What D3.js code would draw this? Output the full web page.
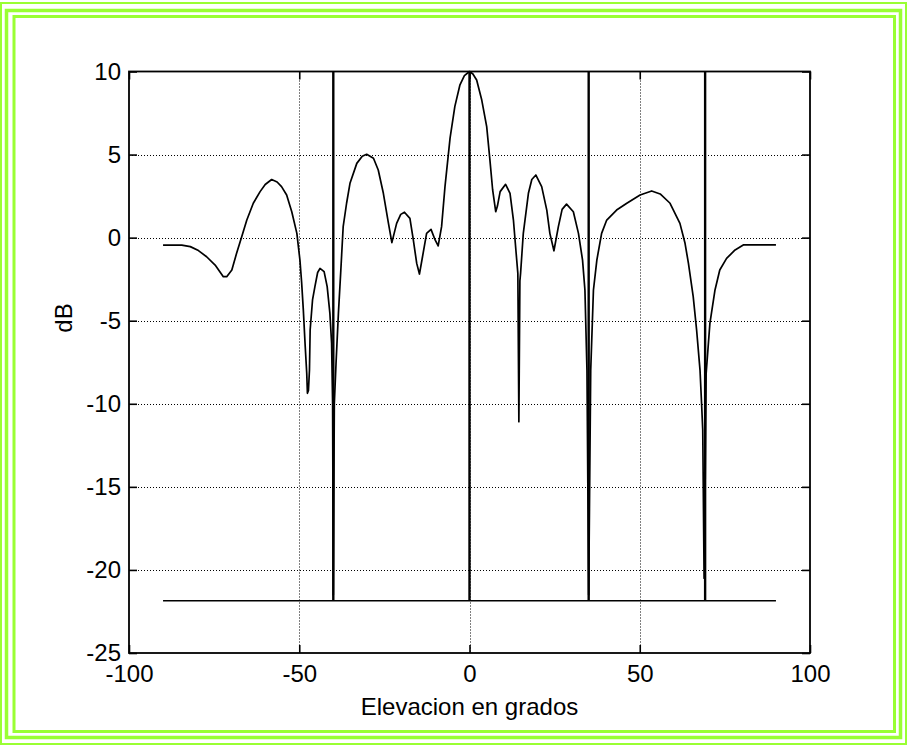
<!DOCTYPE html>
<html>
<head>
<meta charset="utf-8">
<script src="https://cdn.jsdelivr.net/npm/d3@7"></script>
<style>
  body { margin: 0; background: #fff; }
  svg { display: block; }
  text { font-family: "Liberation Sans", Arial, Helvetica, sans-serif; fill: #000; }
</style>
</head>
<body>
<script>
// donnees
var elevacion = [-90, -84.5, -82, -79.6, -77.2, -74.7, -72.3, -71.3, -69.8, -68.4, -66.9, -65.4, -63.5, -61.5, -60, -58.1, -56.5, -55.2, -53.7, -52.2, -50.7, -49.8, -49.3, -48.8, -48.3, -47.8, -47.6, -47.3, -47.0, -46.8, -46.1, -45.4, -44.6, -43.9, -42.7, -41.8, -41.0, -40.5, -40.2, -40.0, -39.7, -39.2, -38.5, -37.8, -37.1, -36.1, -35.1, -33.1, -31.5, -30.2, -28.2, -26.8, -25.3, -23.8, -22.8, -21.4, -20.2, -19.1, -17.5, -16.5, -15.5, -14.7, -13.8, -12.6, -11.3, -10.1, -9.2, -8.2, -7.2, -5.7, -4.3, -2.8, -1.5, 0, 1, 2.1, 3.6, 5.05, 6.0, 6.8, 7.7, 8.2, 9.0, 10.6, 11.9, 12.9, 13.7, 14.2, 14.5, 14.8, 15.0, 15.8, 17.3, 18.3, 19.5, 21.2, 22.7, 23.6, 24.8, 26.1, 27.2, 28.5, 30.5, 32.0, 33.2, 33.9, 34.5, 35.0, 35.6, 36.4, 37.4, 38.8, 40.3, 43.2, 46.2, 50.1, 53.5, 56.0, 58.9, 61.8, 63.3, 64.3, 65.7, 66.7, 67.7, 68.2, 68.5, 68.9, 69.2, 69.5, 70.6, 72.1, 73.5, 75.5, 78.0, 80.4, 90];
var gananciaDb = [-0.45, -0.45, -0.54, -0.78, -1.15, -1.65, -2.35, -2.35, -1.95, -0.94, 0.06, 1.06, 2.07, 2.77, 3.2, 3.5, 3.35, 3.07, 2.57, 1.56, 0.26, -1.35, -2.7, -4.36, -6.36, -8.17, -9.37, -9.2, -7.97, -5.56, -3.75, -2.95, -2.1, -1.85, -2.05, -2.95, -4.56, -6.36, -10, -21.5, -10, -7.57, -4.56, -2.0, 0.66, 2.07, 3.27, 4.47, 4.9, 5.02, 4.78, 4.07, 2.67, 0.86, -0.30, 0.86, 1.4, 1.53, 1.16, -0.14, -1.55, -2.19, -1.15, 0.26, 0.50, -0.14, -0.50, 0.66, 3.07, 6.0, 7.9, 9.2, 9.75, 10, 9.85, 9.49, 8.28, 6.68, 4.67, 2.87, 1.56, 1.9, 2.77, 3.21, 2.67, 1.06, -0.94, -2.15, -11.08, -2.6, -2.15, 0.26, 2.67, 3.5, 3.77, 3.07, 1.66, 0.26, -0.79, 0.66, 1.7, 2.02, 1.56, 0.26, -1.35, -3.15, -8, -21.5, -8, -3.15, -1.35, 0.26, 1.06, 1.66, 2.07, 2.57, 2.81, 2.63, 2.07, 0.86, -0.34, -1.55, -3.55, -5.56, -7.97, -10.18, -11.58, -20.5, -15, -8.17, -5.16, -3.15, -1.95, -1.25, -0.74, -0.44, -0.44];

// lignes verticales (directions) et ligne de base
var angulos = [-40, 0, 35, 69.2];
var nivelBase = -21.85;
var baseDesde = -90, baseHasta = 90;

var ticksX = [-100, -50, 0, 50, 100];
var ticksY = [-25, -20, -15, -10, -5, 0, 5, 10];

var w = 910, h = 747;
var mLeft = 129, mRight = 810, mTop = 71.5, mBottom = 653;
var verde = "#99ff33";

var svg = d3.select("body").append("svg")
  .attr("width", w)
  .attr("height", h);

svg.append("rect").attr("width", w).attr("height", h).attr("fill", "#fff");

// cadre vert
var cadres = [
  {x0: 1, y0: 3, x1: 906, y1: 744, s: 2},
  {x0: 6.5, y0: 10.5, x1: 900.5, y1: 737.5, s: 3.5},
  {x0: 14, y0: 16.5, x1: 894.5, y1: 731.5, s: 3}
];
cadres.forEach(function(c) {
  svg.append("rect")
    .attr("x", c.x0).attr("y", c.y0)
    .attr("width", c.x1 - c.x0).attr("height", c.y1 - c.y0)
    .attr("fill", "none")
    .attr("stroke", verde)
    .attr("stroke-width", c.s);
});

var x = d3.scaleLinear().domain([-100, 100]).range([mLeft, mRight]);
var y = d3.scaleLinear().domain([-25, 10]).range([mBottom, mTop]);

var g = svg.append("g");

// grille pointillee
g.selectAll(".gx").data(ticksX.slice(1, -1)).enter().append("line")
  .attr("x1", function(d) { return Math.round(x(d)) + 0.5; }).attr("x2", function(d) { return Math.round(x(d)) + 0.5; })
  .attr("y1", mTop).attr("y2", mBottom)
  .attr("stroke", "#000").attr("stroke-width", 1).attr("stroke-dasharray", "1,2");
g.selectAll(".gy").data(ticksY.slice(1, -1)).enter().append("line")
  .attr("x1", mLeft).attr("x2", mRight)
  .attr("y1", function(d) { return Math.round(y(d)) + 0.5; }).attr("y2", function(d) { return Math.round(y(d)) + 0.5; })
  .attr("stroke", "#000").attr("stroke-width", 1).attr("stroke-dasharray", "1,2");

// axes
var fs = "24px";
var fmt = function(d) { return String(d); };
var axB = g.append("g").attr("transform", "translate(0," + mBottom + ")")
  .call(d3.axisBottom(x).tickValues(ticksX).tickSize(-8).tickSizeOuter(0).tickPadding(12).tickFormat(fmt));
var axT = g.append("g").attr("transform", "translate(0," + mTop + ")")
  .call(d3.axisTop(x).tickValues(ticksX).tickSize(-8).tickSizeOuter(0).tickFormat(""));
var axL = g.append("g").attr("transform", "translate(" + mLeft + ",0)")
  .call(d3.axisLeft(y).tickValues(ticksY).tickSize(-8).tickSizeOuter(0).tickPadding(8).tickFormat(fmt));
var axR = g.append("g").attr("transform", "translate(" + mRight + ",0)")
  .call(d3.axisRight(y).tickValues(ticksY).tickSize(-8).tickSizeOuter(0).tickFormat(""));

[axB, axT, axL, axR].forEach(function(a) {
  a.select(".domain").remove();
  a.selectAll("line").attr("stroke", "#000").attr("stroke-width", 1.6);
  a.selectAll("text").style("font-size", fs).style("font-family", "Liberation Sans, Arial, sans-serif").attr("fill", "#000");
});

// ligne de base et verticales
g.append("line")
  .attr("x1", x(baseDesde)).attr("x2", x(baseHasta))
  .attr("y1", y(nivelBase)).attr("y2", y(nivelBase))
  .attr("stroke", "#000").attr("stroke-width", 1.5);

g.selectAll(".vert").data(angulos).enter().append("line")
  .attr("x1", function(d) { return x(d); }).attr("x2", function(d) { return x(d); })
  .attr("y1", y(nivelBase)).attr("y2", y(10))
  .attr("stroke", "#000").attr("stroke-width", 2.4);

// diagramme
var datos = elevacion.map(function(e, i) { return [e, gananciaDb[i]]; });
var linea = d3.line()
  .x(function(d) { return x(d[0]); })
  .y(function(d) { return y(d[1]); });

g.append("path")
  .datum(datos)
  .attr("d", linea)
  .attr("fill", "none")
  .attr("stroke", "#000")
  .attr("stroke-width", 1.7)
  .attr("stroke-linejoin", "round");

// boite
g.append("rect")
  .attr("x", mLeft).attr("y", mTop)
  .attr("width", mRight - mLeft).attr("height", mBottom - mTop)
  .attr("fill", "none").attr("stroke", "#000").attr("stroke-width", 1.8);

// etiquettes
svg.append("text")
  .text("Elevacion en grados")
  .attr("x", (mLeft + mRight) / 2).attr("y", 714.5)
  .attr("text-anchor", "middle")
  .style("font-size", fs);

svg.append("text")
  .text("dB")
  .attr("transform", "translate(72,318) rotate(-90)")
  .attr("text-anchor", "middle")
  .style("font-size", fs);
</script>
</body>
</html>
